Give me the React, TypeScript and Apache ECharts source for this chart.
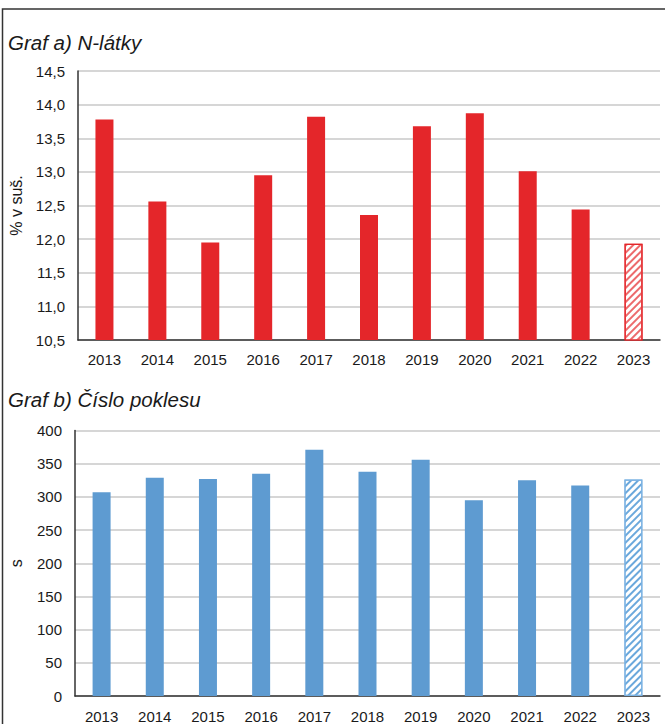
import React, { useEffect, useRef } from 'react';
import * as echarts from 'echarts';

const years = ['2013', '2014', '2015', '2016', '2017', '2018', '2019', '2020', '2021', '2022', '2023'];
const nLatky = [13.78, 12.56, 11.95, 12.95, 13.82, 12.36, 13.68, 13.87, 13.01, 12.44, 11.93];
const cisloPoklesu = [307, 329, 327, 335, 371, 338, 356, 295, 325, 317, 326];

const titleA = 'Graf a) N-látky';
const titleB = 'Graf b) Číslo poklesu';
const axisNameA = '% v suš.';
const axisNameB = 's';

const RED = '#E4262A';
const BLUE = '#5E9BD1';
const FONT = '"Liberation Sans Narrow", "Liberation Sans", Arial, sans-serif';

export default function App() {
  const ref = useRef<HTMLDivElement>(null);
  useEffect(() => {
    if (!ref.current) return;
    const chart = echarts.init(ref.current, null, { renderer: 'svg' });
    const lastIdx = years.length - 1;
    const dataA = nLatky.map((v, i) =>
      i === lastIdx
        ? {
            value: v,
            itemStyle: {
              color: '#ffffff',
              borderColor: RED,
              borderWidth: 1.2,
              decal: {
                symbol: 'rect',
                color: '#EC6A6C',
                backgroundColor: '#FBEAEA',
                dashArrayX: [1, 0],
                dashArrayY: [2, 2.5],
                rotation: -Math.PI / 4,
              },
            },
          }
        : v
    );
    const dataB = cisloPoklesu.map((v, i) =>
      i === lastIdx
        ? {
            value: v,
            itemStyle: {
              color: '#ffffff',
              borderColor: '#7DB3E3',
              borderWidth: 1.2,
              decal: {
                symbol: 'rect',
                color: '#6AA8DC',
                backgroundColor: '#EEF0F8',
                dashArrayX: [1, 0],
                dashArrayY: [2, 2.5],
                rotation: -Math.PI / 4,
              },
            },
          }
        : v
    );
    const axisLabel = { color: '#1a1a1a', fontSize: 15, fontFamily: FONT };
    chart.setOption({
      animation: false,
      backgroundColor: '#ffffff',
      textStyle: { fontFamily: FONT },
      graphic: [
        {
          type: 'rect',
          shape: { x: 2.5, y: 9, width: 700, height: 800 },
          style: { fill: 'none', stroke: '#333', lineWidth: 1.5 },
          silent: true,
        },
        {
          type: 'text',
          left: 8,
          top: 32,
          style: { text: titleA, fontSize: 20.5, fontStyle: 'italic', fontFamily: FONT, fill: '#1a1a1a' },
        },
        {
          type: 'text',
          left: 8,
          top: 389,
          style: { text: titleB, fontSize: 20.5, fontStyle: 'italic', fontFamily: FONT, fill: '#1a1a1a' },
        },
      ],
      grid: [
        { left: 77, width: 583, top: 71, height: 269 },
        { left: 73, width: 587, top: 430.5, height: 268 },
      ],
      xAxis: [
        {
          type: 'category',
          gridIndex: 0,
          data: years,
          axisLine: { lineStyle: { color: '#333', width: 1.5 } },
          axisTick: { show: false },
          axisLabel: { ...axisLabel, margin: 12 },
        },
        {
          type: 'category',
          gridIndex: 1,
          data: years,
          axisLine: { lineStyle: { color: '#333', width: 1.5 } },
          axisTick: { show: false },
          axisLabel: { ...axisLabel, margin: 13 },
        },
      ],
      yAxis: [
        {
          type: 'value',
          gridIndex: 0,
          min: 10.5,
          max: 14.5,
          interval: 0.5,
          name: axisNameA,
          nameLocation: 'middle',
          nameGap: 54,
          nameTextStyle: { color: '#1a1a1a', fontSize: 16, fontFamily: FONT },
          axisLine: { show: true, lineStyle: { color: '#333', width: 1.5 } },
          axisTick: { show: false },
          axisLabel: {
            ...axisLabel,
            margin: 13,
            formatter: (v: number) => v.toFixed(1).replace('.', ','),
          },
          splitLine: { lineStyle: { color: '#C8C8C8', width: 1.5 } },
        },
        {
          type: 'value',
          gridIndex: 1,
          min: 0,
          max: 400,
          interval: 50,
          name: axisNameB,
          nameLocation: 'middle',
          nameGap: 51,
          nameTextStyle: { color: '#1a1a1a', fontSize: 16, fontFamily: FONT },
          axisLine: { show: true, lineStyle: { color: '#333', width: 1.5 } },
          axisTick: { show: false },
          axisLabel: { ...axisLabel, margin: 13 },
          splitLine: { lineStyle: { color: '#C8C8C8', width: 1.5 } },
        },
      ],
      series: [
        {
          type: 'bar',
          xAxisIndex: 0,
          yAxisIndex: 0,
          data: dataA,
          barWidth: 18,
          itemStyle: { color: RED },
        },
        {
          type: 'bar',
          xAxisIndex: 1,
          yAxisIndex: 1,
          data: dataB,
          barWidth: 18,
          itemStyle: { color: BLUE },
        },
      ],
    });
    return () => chart.dispose();
  }, []);
  return (
    <div
      ref={ref}
      style={{ position: 'absolute', left: 0, top: 0, width: 665, height: 724 }}
    />
  );
}
